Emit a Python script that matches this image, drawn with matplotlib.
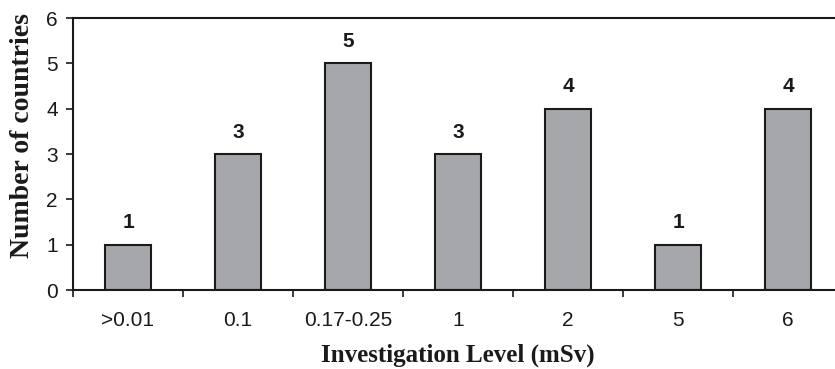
import matplotlib
matplotlib.use("Agg")
import matplotlib.pyplot as plt
import numpy as np

categories = [">0.01", "0.1", "0.17-0.25", "1", "2", "5", "6"]
counts = [1, 3, 5, 3, 4, 1, 4]
yticks = [0, 1, 2, 3, 4, 5, 6]

W, H = 835, 369
fig = plt.figure(figsize=(W / 100, H / 100), dpi=100)
x0, x1 = 73, 843
ytop, ybot = 18, 290
ax = fig.add_axes([x0 / W, 1 - ybot / H, (x1 - x0) / W, (ybot - ytop) / H])

x = np.arange(len(categories))
ax.bar(x, counts, width=0.41, color="#a6a7ab", edgecolor="#1a1a1a", linewidth=1.5, zorder=2)
for xi, c in zip(x, counts):
    ax.annotate(str(c), (xi, c), xytext=(0, 9), textcoords="offset points",
                ha="center", va="bottom", fontsize=15, fontweight="bold",
                family="Liberation Sans", color="#1a1a1a")

ax.set_xlim(-0.5, len(categories) - 0.5)
ax.set_ylim(0, 6)
ax.set_yticks(yticks)
ax.set_yticklabels([str(t) for t in yticks], family="Liberation Sans", fontsize=15, color="#1a1a1a")
ax.set_xticks(x)
ax.set_xticklabels(categories, family="Liberation Sans", fontsize=15, color="#1a1a1a")
ax.tick_params(axis="x", which="major", length=0, pad=15)
ax.set_xticks(np.arange(-0.5, len(categories), 1.0), minor=True)
ax.tick_params(axis="x", which="minor", length=5, width=1.2, direction="out", color="#1a1a1a")
ax.tick_params(axis="y", length=5, width=1.2, direction="out", color="#1a1a1a", pad=6)

for s in ["left", "bottom", "top"]:
    ax.spines[s].set_linewidth(1.5)
    ax.spines[s].set_color("#1a1a1a")
ax.spines["right"].set_visible(False)

ax.set_ylabel("Number of countries", family="Liberation Serif", fontweight="bold",
              fontsize=20, color="#1a1a1a")
ax.yaxis.set_label_coords(-0.049, 0.566)
ax.set_xlabel("Investigation Level (mSv)", family="Liberation Serif", fontweight="bold",
              fontsize=18, color="#1a1a1a", labelpad=10)

fig.savefig("out.png", dpi=100)
